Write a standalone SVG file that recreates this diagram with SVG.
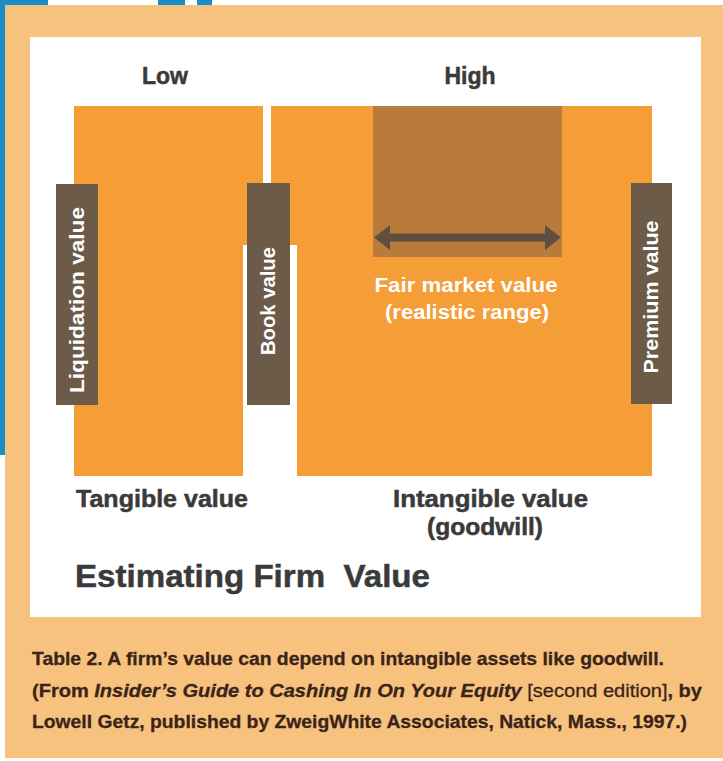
<svg xmlns="http://www.w3.org/2000/svg" width="723" height="761" viewBox="0 0 723 761">
<style>
.lbl{font-family:"Liberation Sans",Arial,sans-serif;font-weight:bold;fill:#3a3a3a;stroke:#3a3a3a;stroke-width:0.5}
.bar{fill:#6c5b49}
.bt{font-family:"Liberation Sans",Arial,sans-serif;font-weight:bold;fill:#ffffff;font-size:20px}
.org{fill:#f59d36}
.cap{font-family:"Liberation Sans",Arial,sans-serif;font-weight:bold;fill:#3a2419;font-size:19px;stroke:#3a2419;stroke-width:0.3}
</style>
<rect x="0" y="0" width="723" height="761" fill="#ffffff"/>
<rect x="5" y="5" width="718" height="753" fill="#f7c27e"/>
<g id="blue" fill="#1a8ec4">
<rect x="0" y="0" width="48" height="5"/>
<rect x="158" y="0" width="27" height="5"/>
<rect x="197" y="0" width="15" height="5"/>
<rect x="0" y="0" width="5" height="455"/>
</g>
<rect x="30" y="37" width="671" height="580" fill="#ffffff"/>
<g id="low"><text class="lbl" x="165" y="84" font-size="23" text-anchor="middle">Low</text></g>
<g id="high"><text class="lbl" x="470" y="84" font-size="23" text-anchor="middle">High</text></g>
<g id="tangible">
<path class="org" d="M74,106 H263 V245 H243 V476 H74 Z"/>
</g>
<g id="intangible">
<path class="org" d="M271,106 H652 V476 H297 V245 H271 Z"/>
</g>
<g id="fair-market">
<rect x="373" y="106" width="189" height="151" fill="#b87b3b"/>
<text class="bt" x="466" y="292" text-anchor="middle" textLength="183" lengthAdjust="spacingAndGlyphs">Fair market value</text>
<text class="bt" x="467" y="319" text-anchor="middle" textLength="164" lengthAdjust="spacingAndGlyphs">(realistic range)</text>
</g>
<g id="connectors">
<path d="M374,237.5 L390,225 V233.5 H545 V225 L561,237.5 L545,250 V241.5 H390 V250 Z" fill="#5f4f3f"/>
</g>
<g id="liquidation">
<rect class="bar" x="56" y="184" width="42" height="221"/>
<text class="bt" transform="translate(84,300) rotate(-90)" text-anchor="middle" textLength="186" lengthAdjust="spacingAndGlyphs">Liquidation value</text>
</g>
<g id="book">
<rect class="bar" x="247" y="183" width="43" height="222"/>
<text class="bt" transform="translate(275,301) rotate(-90)" text-anchor="middle" textLength="108" lengthAdjust="spacingAndGlyphs">Book value</text>
</g>
<g id="premium">
<rect class="bar" x="631" y="183" width="41" height="221"/>
<text class="bt" transform="translate(658,297) rotate(-90)" text-anchor="middle" textLength="153" lengthAdjust="spacingAndGlyphs">Premium value</text>
</g>
<g id="tangible-label"><text class="lbl" x="76" y="507" font-size="23" textLength="172" lengthAdjust="spacingAndGlyphs">Tangible value</text></g>
<g id="intangible-label">
<text class="lbl" x="393" y="507" font-size="23" textLength="195" lengthAdjust="spacingAndGlyphs">Intangible value</text>
<text class="lbl" x="427" y="535" font-size="23" textLength="116" lengthAdjust="spacingAndGlyphs">(goodwill)</text>
</g>
<g id="title"><text class="lbl" x="75" y="587" font-size="32" textLength="355" lengthAdjust="spacingAndGlyphs" xml:space="preserve">Estimating Firm  Value</text></g>
<g id="caption">
<text class="cap" x="32" y="665" textLength="632" lengthAdjust="spacingAndGlyphs">Table 2. A firm’s value can depend on intangible assets like goodwill.</text>
<text class="cap" x="32" y="697" textLength="670" lengthAdjust="spacingAndGlyphs">(From <tspan font-style="italic">Insider’s Guide to Cashing In On Your Equity</tspan><tspan font-weight="normal"> [second edition]</tspan>, by</text>
<text class="cap" x="32" y="728" textLength="655" lengthAdjust="spacingAndGlyphs">Lowell Getz, published by ZweigWhite Associates, Natick, Mass., 1997.)</text>
</g>
</svg>
